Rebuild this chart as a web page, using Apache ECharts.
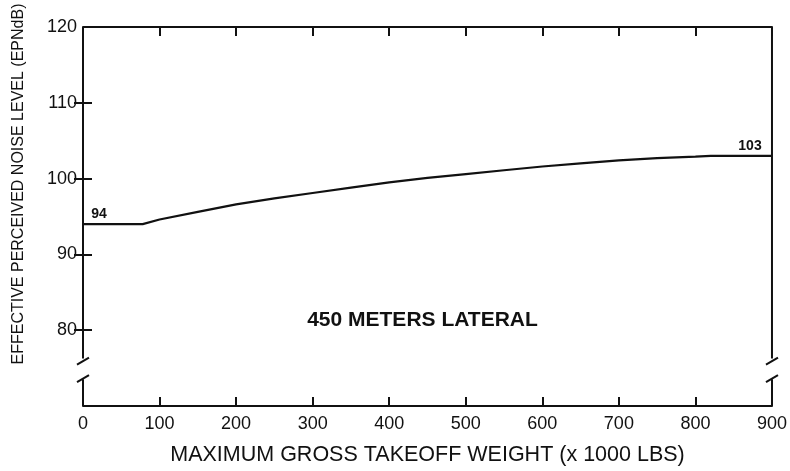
<!DOCTYPE html>
<html><head><meta charset="utf-8">
<script src="https://cdn.jsdelivr.net/npm/echarts@6/dist/echarts.min.js"></script>
<style>html,body{margin:0;padding:0;background:#fff}#c{width:790px;height:471px}</style>
</head><body><div id="c"></div>
<script>
const weights = [0, 78, 100, 150, 200, 250, 300, 350, 400, 450, 500, 550, 600, 650, 700, 750, 800, 820, 900];
const noise   = [94, 94, 94.6, 95.6, 96.6, 97.4, 98.1, 98.8, 99.5, 100.1, 100.6, 101.1, 101.6, 102.0, 102.4, 102.7, 102.9, 103, 103];
const xTicks = [0, 100, 200, 300, 400, 500, 600, 700, 800, 900];
const yTicks = [80, 90, 100, 110, 120];
const xTitle = 'MAXIMUM GROSS TAKEOFF WEIGHT (x 1000 LBS)';
const yTitle = 'EFFECTIVE PERCEIVED NOISE LEVEL (EPNdB)';
const note = '450 METERS LATERAL';
const breakVals = [76, 73.8];

const FONT = '"Liberation Sans", Arial, sans-serif';
const chart = echarts.init(document.getElementById('c'));
const data = weights.map((w, i) => {
  const item = { value: [w, noise[i]] };
  if (i === 0) item.label = { show: true, position: 'top', offset: [16, 0] };
  if (i === weights.length - 1) item.label = { show: true, position: 'top', offset: [-22, 0] };
  return item;
});
const tickStyle = { show: true, inside: true, length: 9, lineStyle: { color: '#111', width: 2 } };
const yTickStyle = Object.assign({}, tickStyle, { customValues: yTicks.filter(v => v < 120) });
chart.setOption({
  animation: false,
  grid: { left: 83, right: 18, top: 27, bottom: 63 },
  xAxis: [{
    type: 'value', min: 0, max: 900, interval: 100, position: 'bottom',
    axisLine: { show: true, lineStyle: { color: '#111', width: 2 } },
    axisTick: tickStyle, splitLine: { show: false },
    axisLabel: { color: '#111', fontFamily: FONT, fontSize: 18, margin: 9,
      formatter: v => xTicks.includes(v) ? String(v) : '' },
    name: xTitle, nameLocation: 'middle', nameGap: 38,
    nameTextStyle: { color: '#111', fontFamily: FONT, fontSize: 21.5 }
  }, {
    type: 'value', min: 0, max: 900, interval: 100, position: 'top',
    axisLine: { show: true, lineStyle: { color: '#111', width: 2 } },
    axisTick: tickStyle, splitLine: { show: false }, axisLabel: { show: false }
  }],
  yAxis: [{
    type: 'value', min: 70, max: 120, interval: 10, position: 'left',
    axisLine: { show: false }, axisTick: yTickStyle, splitLine: { show: false },
    axisLabel: { color: '#111', fontFamily: FONT, fontSize: 18, margin: 6,
      formatter: v => yTicks.includes(v) ? String(v) : '' }
  }, {
    type: 'value', min: 70, max: 120, interval: 10, position: 'right',
    axisLine: { show: false }, axisTick: yTickStyle, splitLine: { show: false },
    axisLabel: { show: false }
  }],
  series: [{
    type: 'line', data: data, showSymbol: true, symbol: 'circle', symbolSize: 0,
    lineStyle: { color: '#111', width: 2.2 }, itemStyle: { color: '#111' },
    label: { show: false, color: '#111', fontFamily: FONT, fontSize: 14, fontWeight: 'bold', distance: 3,
      formatter: p => String(p.value[1]) }
  }]
});

function px(x, y) { return chart.convertToPixel({ gridIndex: 0 }, [x, y]); }
const [xl, yTop] = px(0, 120);
const [xr, yBot] = px(900, 70);
const yB1 = px(0, breakVals[0])[1];
const yB2 = px(0, breakVals[1])[1];
const ls = { stroke: '#111', lineWidth: 2 };
function side(x) {
  return [
    { type: 'line', shape: { x1: x, y1: yTop, x2: x, y2: yB1 - 2 }, style: ls },
    { type: 'line', shape: { x1: x - 6, y1: yB1 + 4, x2: x + 6, y2: yB1 - 3 }, style: ls },
    { type: 'line', shape: { x1: x - 6, y1: yB2 + 5, x2: x + 6, y2: yB2 - 2 }, style: ls },
    { type: 'line', shape: { x1: x, y1: yB2 + 2, x2: x, y2: yBot }, style: ls }
  ];
}
chart.setOption({
  graphic: [
    ...side(xl), ...side(xr),
    { type: 'text', x: 19, y: 184, rotation: Math.PI / 2,
      style: { text: yTitle, fill: '#111', font: '16px ' + FONT, align: 'center', verticalAlign: 'middle' } },
    { type: 'text', x: (xl + xr) / 2 - 5, y: px(0, 80)[1] - 10,
      style: { text: note, fill: '#111', font: 'bold 21px ' + FONT, align: 'center', verticalAlign: 'middle' } }
  ]
});
</script></body></html>
